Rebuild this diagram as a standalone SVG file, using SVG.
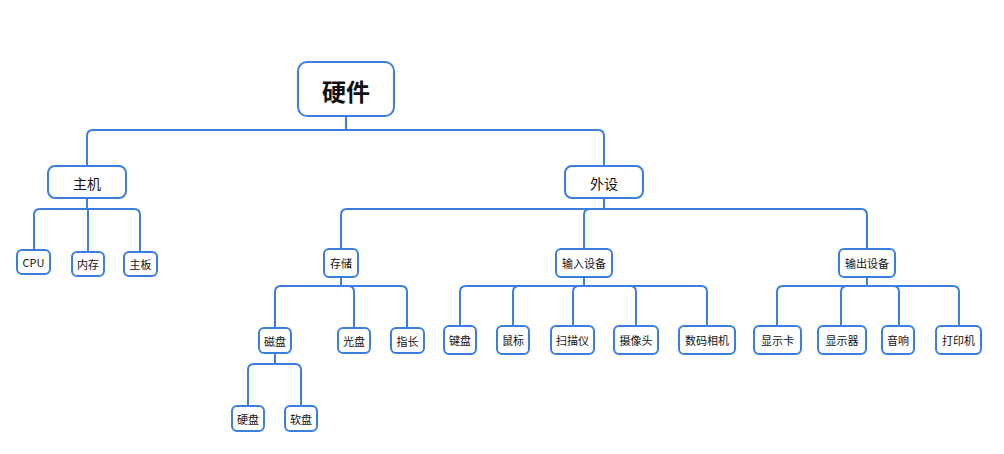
<svg xmlns="http://www.w3.org/2000/svg" width="1004" height="454" viewBox="0 0 1004 454">
<style>
rect{fill:#fff;stroke:#3a7ee0;stroke-width:2}
path{fill:none;stroke:#3a7ee0;stroke-width:2}
text{font-family:"Noto Sans CJK SC","Liberation Sans",sans-serif;font-size:11px;fill:#111;text-anchor:middle;dominant-baseline:central}
.m{font-size:14px}
.r{font-size:24px;font-weight:bold}
</style>
<rect width="1004" height="454" style="fill:#fff;stroke:none"/>
<g id="connectors">
<path d="M346 116V130"/>
<path d="M346 130H93Q87 130 87 136V166"/>
<path d="M346 130H598Q604 130 604 136V166"/>
<path d="M87 198V209"/>
<path d="M87 209H40Q34 209 34 215V250"/>
<path d="M88 209V252"/>
<path d="M87 209H134Q140 209 140 215V252"/>
<path d="M604 198V209"/>
<path d="M604 209H347Q341 209 341 215V249"/>
<path d="M604 209H590Q584 209 584 215V249"/>
<path d="M604 209H861Q867 209 867 215V249"/>
<path d="M341 277V286"/>
<path d="M341 286H281Q275 286 275 292V328"/>
<path d="M341 286H348Q354 286 354 292V328"/>
<path d="M341 286H401Q407 286 407 292V328"/>
<path d="M275 353V364"/>
<path d="M275 364H254Q248 364 248 370V406"/>
<path d="M275 364H295Q301 364 301 370V406"/>
<path d="M584 277V286"/>
<path d="M584 286H466Q460 286 460 292V326"/>
<path d="M584 286H519Q513 286 513 292V326"/>
<path d="M584 286H579Q573 286 573 292V326"/>
<path d="M584 286H630Q636 286 636 292V326"/>
<path d="M584 286H701Q707 286 707 292V326"/>
<path d="M867 277V286"/>
<path d="M867 286H783Q777 286 777 292V326"/>
<path d="M867 286H847Q841 286 841 292V326"/>
<path d="M867 286H893Q899 286 899 292V326"/>
<path d="M867 286H953Q959 286 959 292V326"/>
</g>
<g id="n-root"><rect x="298" y="62" width="96" height="54" rx="9"/><text class="r" x="346" y="90">硬件</text></g>
<g id="n-zhuji"><rect x="48" y="166" width="78" height="32" rx="7"/><text class="m" x="87" y="183">主机</text></g>
<g id="n-waishe"><rect x="565" y="166" width="78" height="32" rx="7"/><text class="m" x="604" y="183">外设</text></g>
<g id="n-cpu"><rect x="17" y="250" width="33" height="24" rx="5"/><text x="33.5" y="262">CPU</text></g>
<g id="n-neicun"><rect x="72" y="252" width="32" height="24" rx="5"/><text x="88" y="264">内存</text></g>
<g id="n-zhuban"><rect x="124" y="252" width="33" height="24" rx="5"/><text x="140.5" y="264">主板</text></g>
<g id="n-cunchu"><rect x="324" y="249" width="34" height="28" rx="5"/><text x="341" y="263">存储</text></g>
<g id="n-shuru"><rect x="556" y="249" width="56" height="28" rx="5"/><text x="584" y="263">输入设备</text></g>
<g id="n-shuchu"><rect x="839" y="249" width="56" height="28" rx="5"/><text x="867" y="263">输出设备</text></g>
<g id="n-cipan"><rect x="259" y="328" width="32" height="25" rx="5"/><text x="275" y="341">磁盘</text></g>
<g id="n-guangpan"><rect x="338" y="328" width="32" height="25" rx="5"/><text x="354" y="341">光盘</text></g>
<g id="n-zhichang"><rect x="391" y="328" width="33" height="25" rx="5"/><text x="407.5" y="341">指长</text></g>
<g id="n-yingpan"><rect x="232" y="406" width="32" height="25" rx="5"/><text x="248" y="419">硬盘</text></g>
<g id="n-ruanpan"><rect x="285" y="406" width="32" height="25" rx="5"/><text x="301" y="419">软盘</text></g>
<g id="n-jianpan"><rect x="444" y="326" width="32" height="28" rx="5"/><text x="460" y="340">键盘</text></g>
<g id="n-shubiao"><rect x="497" y="326" width="32" height="28" rx="5"/><text x="513" y="340">鼠标</text></g>
<g id="n-saomiao"><rect x="551" y="326" width="43" height="28" rx="5"/><text x="572.5" y="340">扫描仪</text></g>
<g id="n-shexiang"><rect x="614" y="326" width="44" height="28" rx="5"/><text x="636" y="340">摄像头</text></g>
<g id="n-shuma"><rect x="679" y="326" width="56" height="28" rx="5"/><text x="707" y="340">数码相机</text></g>
<g id="n-xianka"><rect x="754" y="326" width="47" height="28" rx="5"/><text x="777.5" y="340">显示卡</text></g>
<g id="n-xianshiqi"><rect x="818" y="326" width="48" height="28" rx="5"/><text x="842" y="340">显示器</text></g>
<g id="n-yinxiang"><rect x="882" y="326" width="32" height="28" rx="5"/><text x="898" y="340">音响</text></g>
<g id="n-dayin"><rect x="936" y="326" width="45" height="28" rx="5"/><text x="958.5" y="340">打印机</text></g>
</svg>
